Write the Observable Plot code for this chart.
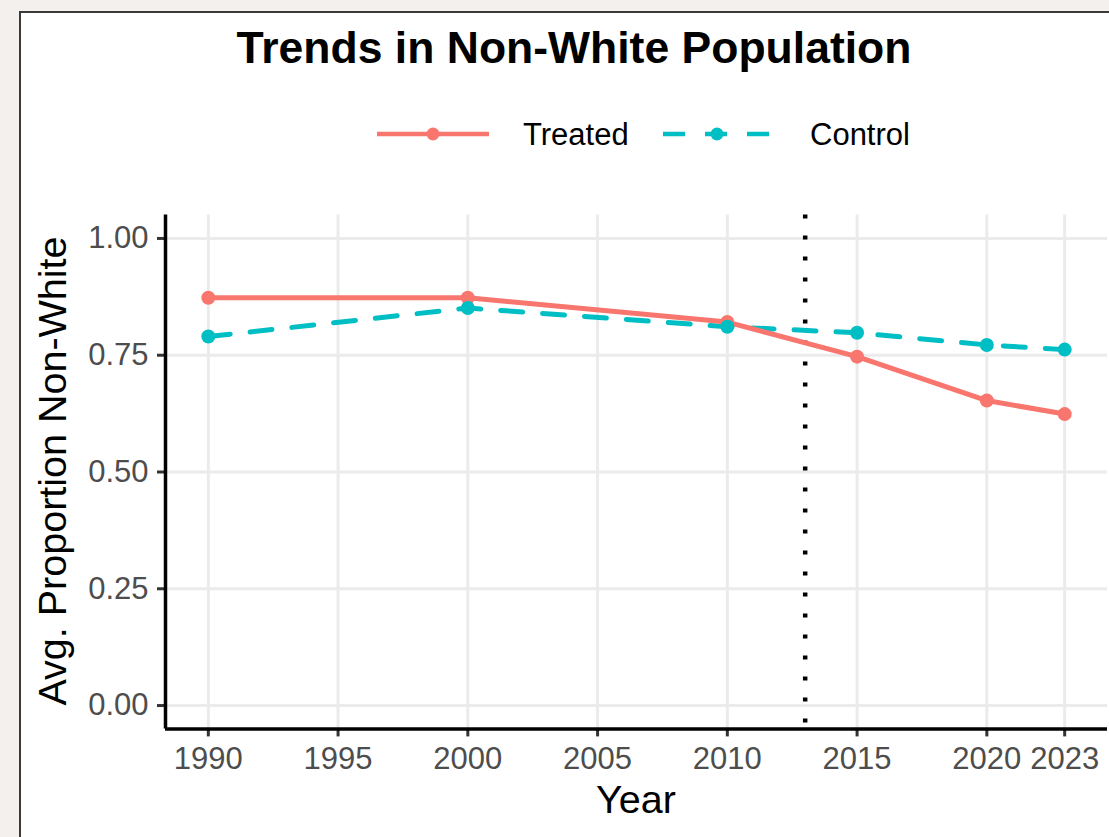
<!DOCTYPE html>
<html>
<head>
<meta charset="utf-8">
<script src="https://cdn.jsdelivr.net/npm/d3@7"></script>
<script src="https://cdn.jsdelivr.net/npm/@observablehq/plot@0.6"></script>
<style>
  html, body { margin: 0; padding: 0; }
  body { width: 1109px; height: 837px; overflow: hidden; position: relative; background: #f3f0ed; font-family: "Liberation Sans", Arial, Helvetica, sans-serif; }
  #panel { position: absolute; left: 19px; top: 11px; width: 1200px; height: 900px; background: #fff; border: 2px solid #3a3a3a; box-sizing: border-box; }
  .abs { position: absolute; white-space: nowrap; line-height: 1; }
  #title { left: 0; width: 1148px; text-align: center; top: 26px; font-size: 44.5px; font-weight: bold; color: #000; }
  .legtext { font-size: 31px; color: #000; top: 119px; }
  #xlabel { left: 0; width: 1272px; text-align: center; top: 780px; font-size: 39.5px; color: #000; }
  #ylabel { left: 53px; top: 471px; font-size: 39.5px; color: #000; transform: translate(-50%, -50%) rotate(-90deg); }
  #chart { position: absolute; left: 0; top: 180px; }
  svg.leg { position: absolute; overflow: visible; }
</style>
</head>
<body>
<div id="panel"></div>
<div id="title" class="abs">Trends in Non-White Population</div>
<div id="legend"></div>
<div id="chart"></div>
<div id="xlabel" class="abs">Year</div>
<div id="ylabel" class="abs">Avg. Proportion Non-White</div>
<script>
// ---- data ----
const years = [1990, 2000, 2010, 2015, 2020, 2023];
const treatedValues = [0.873, 0.873, 0.821, 0.747, 0.653, 0.624];
const controlValues = [0.790, 0.851, 0.811, 0.798, 0.772, 0.762];
const groups = ["Treated", "Control"];
const groupColors = ["#F8766D", "#00BFC4"];
const treatmentYear = 2013;
const xTickValues = [1990, 1995, 2000, 2005, 2010, 2015, 2020, 2023];
const yTickValues = [0, 0.25, 0.5, 0.75, 1.0];

const rows = [
  ...years.map((year, i) => ({ year, value: treatedValues[i], group: groups[0] })),
  ...years.map((year, i) => ({ year, value: controlValues[i], group: groups[1] }))
];
const treatedRows = rows.filter(d => d.group === "Treated");
const controlRows = rows.filter(d => d.group === "Control");

// ggplot-style 5% expansion
const xSpan = d3.max(years) - d3.min(years);
const xDomain = [d3.min(years) - 0.05 * xSpan, d3.max(years) + 0.05 * xSpan];
const yDomain = [-0.05, 1.05];

const W = 1109, H = 657;
const chart = Plot.plot({
  width: W,
  height: H,
  marginLeft: 165,
  marginRight: 2,
  marginTop: 34.6,
  marginBottom: 108.6,
  style: { background: "transparent", fontFamily: "'Liberation Sans', Arial, Helvetica, sans-serif", overflow: "visible" },
  x: { domain: xDomain, label: null },
  y: { domain: yDomain, label: null },
  color: { domain: groups, range: groupColors },
  marks: [
    Plot.gridX(xTickValues, { stroke: "#ebebeb", strokeOpacity: 1, strokeWidth: 3 }),
    Plot.gridY(yTickValues, { stroke: "#ebebeb", strokeOpacity: 1, strokeWidth: 3 }),
    Plot.ruleX([treatmentYear], { stroke: "#000", strokeWidth: 4.5, strokeDasharray: "4,17" }),
    Plot.line(controlRows, { x: "year", y: "value", stroke: "group", strokeWidth: 5, strokeDasharray: "22,20" }),
    Plot.line(treatedRows, { x: "year", y: "value", stroke: "group", strokeWidth: 5 }),
    Plot.dot(rows, { x: "year", y: "value", fill: "group", r: 7 }),
    Plot.axisX(xTickValues, { tickSize: 8, tickPadding: 10, stroke: "#333", strokeWidth: 3, fontSize: 31, fill: "#4d4d4d", tickFormat: d => String(d), label: null }),
    Plot.axisY(yTickValues, { tickSize: 8, tickPadding: 9, stroke: "#333", strokeWidth: 3, fontSize: 31, fill: "#4d4d4d", tickFormat: d3.format(".2f"), label: null }),
    Plot.ruleY([yDomain[0]], { stroke: "#000", strokeWidth: 3.5 }),
    Plot.ruleX([xDomain[0]], { stroke: "#000", strokeWidth: 3.5 })
  ]
});
document.getElementById("chart").appendChild(chart);

// ---- legend (HTML/SVG keys) ----
const legend = document.getElementById("legend");
const keys = [
  { group: "Treated", x0: 377, x1: 489, textX: 523, dash: null },
  { group: "Control", x0: 663, x1: 769, textX: 810, dash: "22,20" }
];
keys.forEach((k, i) => {
  const ns = "http://www.w3.org/2000/svg";
  const svg = document.createElementNS(ns, "svg");
  svg.setAttribute("class", "leg");
  svg.setAttribute("width", k.x1 - k.x0);
  svg.setAttribute("height", 20);
  svg.style.left = k.x0 + "px";
  svg.style.top = "124px";
  const line = document.createElementNS(ns, "line");
  line.setAttribute("x1", 0); line.setAttribute("x2", k.x1 - k.x0);
  line.setAttribute("y1", 10); line.setAttribute("y2", 10);
  line.setAttribute("stroke", groupColors[i]);
  line.setAttribute("stroke-width", 4.5);
  if (k.dash) line.setAttribute("stroke-dasharray", k.dash);
  svg.appendChild(line);
  const c = document.createElementNS(ns, "circle");
  c.setAttribute("cx", (k.x1 - k.x0) / 2 + (k.dash ? 1 : 0)); c.setAttribute("cy", 10); c.setAttribute("r", 6.5);
  c.setAttribute("fill", groupColors[i]);
  svg.appendChild(c);
  legend.appendChild(svg);
  const t = document.createElement("div");
  t.className = "abs legtext";
  t.style.left = k.textX + "px";
  t.textContent = k.group;
  legend.appendChild(t);
});
</script>
</body>
</html>
